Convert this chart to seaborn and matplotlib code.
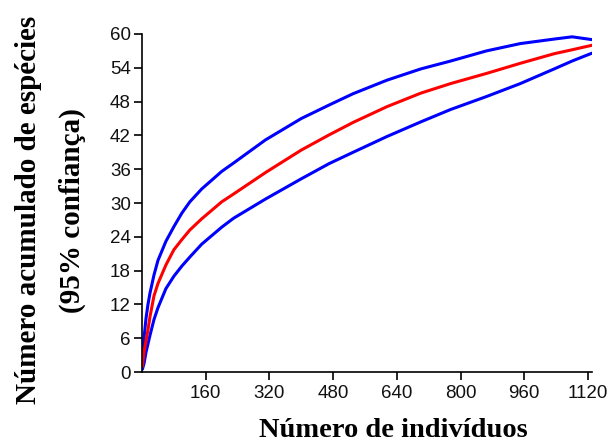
import matplotlib
matplotlib.use("Agg")
import matplotlib.pyplot as plt
import numpy as np
import pandas as pd
import seaborn as sns

# Data
individuos = [1, 5, 10, 15, 20, 30, 40, 60, 80, 100, 120, 150, 200, 230, 310, 400,
              470, 530, 615, 700, 775, 865, 950, 1035, 1080, 1130]
media = [1, 3.5, 5.5, 7.5, 9.8, 13.5, 15.7, 19, 21.7, 23.5, 25.2, 27.2, 30.2, 31.6, 35.4, 39.4,
         42.1, 44.3, 47.1, 49.5, 51.2, 53.0, 54.8, 56.5, 57.2, 58.0]
limite_superior = [1, 6, 9.5, 12, 14, 17.2, 19.8, 23.2, 25.8, 28.2, 30.2, 32.5, 35.6, 37.1, 41.2, 45.0,
                   47.4, 49.4, 51.8, 53.8, 55.2, 57.0, 58.3, 59.1, 59.5, 59.0]
limite_inferior = [0.5, 1.5, 3.5, 5, 6.5, 9.3, 11.4, 14.8, 17, 18.8, 20.4, 22.7, 25.7, 27.3, 30.7, 34.3,
                   37.0, 39.0, 41.8, 44.4, 46.6, 48.9, 51.2, 53.8, 55.2, 56.6]
x_ticks = [160, 320, 480, 640, 800, 960, 1120]
y_ticks = [0, 6, 12, 18, 24, 30, 36, 42, 48, 54, 60]

df = pd.DataFrame({
    "individuos": individuos,
    "superior": limite_superior,
    "inferior": limite_inferior,
    "media": media,
}).melt(id_vars="individuos", var_name="serie", value_name="especies")

sns.set_style("ticks")

fig = plt.figure(figsize=(6.1, 4.45), dpi=100)
ax = fig.add_axes([0.2328, 0.164, 0.7377, 0.7596])

sns.lineplot(data=df, x="individuos", y="especies", hue="serie",
             palette={"superior": "#0000ff", "inferior": "#0000ff", "media": "#ff0000"},
             estimator=None, sort=False, linewidth=2.2, legend=False, ax=ax)

ax.set_xlim(0, 1130)
ax.set_ylim(0, 60)
ax.set_xticks(x_ticks)
ax.set_yticks(y_ticks)
for s in ["top", "right"]:
    ax.spines[s].set_visible(False)
for s in ["left", "bottom"]:
    ax.spines[s].set_linewidth(1.2)
    ax.spines[s].set_color("black")
ax.tick_params(axis="both", direction="out", length=6, width=1.2, color="black",
               labelsize=13.5, labelcolor="#111111")
ax.tick_params(axis="y", pad=2)
ax.tick_params(axis="x", pad=3.5)
for lab in ax.get_xticklabels() + ax.get_yticklabels():
    lab.set_fontfamily("Liberation Sans")

ax.set_xlabel("Número de indivíduos", fontfamily="Liberation Serif",
              fontweight="bold", fontsize=20.5, color="black")
ax.xaxis.set_label_coords(0.558, -0.172)
ax.xaxis.label.set_va("center")

ax.set_ylabel("Número acumulado de espécies\n(95% confiança)",
              fontfamily="Liberation Serif", fontweight="bold", fontsize=21,
              color="black", linespacing=1.8)
ax.yaxis.label.set_va("center")
ax.yaxis.label.set_ha("center")
ax.yaxis.set_label_coords(-0.204, 0.479)

fig.savefig("out.png", dpi=100)
